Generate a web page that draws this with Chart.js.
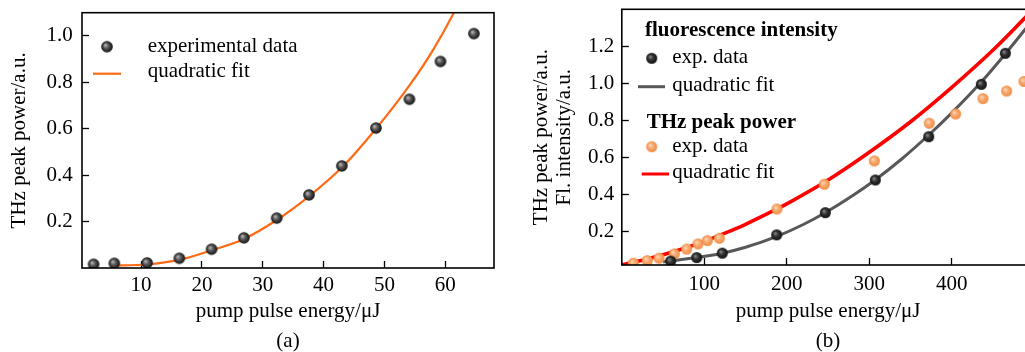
<!DOCTYPE html>
<html><head><meta charset="utf-8">
<script src="https://cdn.jsdelivr.net/npm/chart.js@4.4.1/dist/chart.umd.min.js"></script>
<style>
html,body{margin:0;padding:0;background:#fff;overflow:hidden;width:1025px;height:352px;}
#ca{position:absolute;left:0;top:0;}
#cb{position:absolute;left:515px;top:0;}
</style></head><body>
<canvas id="ca" width="510" height="352"></canvas>
<canvas id="cb" width="540" height="352"></canvas>
<script>
// ---- panel (a) data ----
const expAx = [2.2, 5.6, 11.0, 16.3, 21.6, 26.9, 32.3, 37.6, 43.0, 48.6, 54.1, 59.2, 64.7];
const expAy = [0.016, 0.02, 0.022, 0.042, 0.081, 0.13, 0.215, 0.315, 0.44, 0.603, 0.727, 0.89, 1.01];
const fitAx = [5, 10.9, 16.4, 21.8, 26.8, 32.3, 37.7, 43.2, 48.7, 54.2, 58, 61.4, 62.5];
const fitAy = [0.01, 0.015, 0.036, 0.078, 0.124, 0.207, 0.311, 0.438, 0.603, 0.79, 0.94, 1.1, 1.16];
const ticksAx = [10, 20, 30, 40, 50, 60];
const ticksAy = [0.2, 0.4, 0.6, 0.8, 1.0];

// ---- panel (b) data ----
const flExpX = [59.2, 90.8, 121.8, 187.8, 246.7, 307.3, 372, 435.8, 464.9];
const flExpY = [0.038, 0.057, 0.081, 0.18, 0.30, 0.477, 0.711, 0.994, 1.162];
const flFitX = [50, 60, 75, 90, 105, 122, 150, 188, 220, 247, 280, 307, 340, 372, 400, 436, 465, 489, 500];
const flFitY = [0.033, 0.04, 0.048, 0.057, 0.067, 0.081, 0.113, 0.172, 0.236, 0.301, 0.393, 0.477, 0.593, 0.72, 0.84, 1.008, 1.16, 1.292, 1.356];
const thzExpX = [14, 30.9, 45.1, 63.7, 78.7, 92.4, 103.7, 118.2, 188.1, 245.5, 306.1, 372.7, 404.7, 437.8, 466.5, 487.5];
const thzExpY = [0.027, 0.041, 0.054, 0.077, 0.103, 0.131, 0.149, 0.162, 0.32, 0.454, 0.58, 0.784, 0.834, 0.917, 0.958, 1.01];
const thzFitX = [0, 25, 50, 75, 100, 125, 150, 188, 200, 250, 300, 350, 400, 450, 489, 500];
const thzFitY = [0.018, 0.043, 0.072, 0.106, 0.145, 0.189, 0.237, 0.32, 0.348, 0.477, 0.627, 0.792, 0.978, 1.18, 1.355, 1.405];
const ticksBx = [100, 200, 300, 400];
const ticksBy = [0.2, 0.4, 0.6, 0.8, 1.0, 1.2];

const FONT = '"Liberation Serif", "Times New Roman", serif';
const pts = (xs, ys) => xs.map((x, i) => ({x: x, y: ys[i]}));

function sphere(r, hi, mid, lo) {
  const c = document.createElement('canvas');
  const s = Math.ceil(r * 2) + 2; c.width = s; c.height = s;
  const g = c.getContext('2d');
  const cx = s / 2, cy = s / 2;
  const grad = g.createRadialGradient(cx - r * 0.3, cy - r * 0.3, r * 0.05, cx, cy, r);
  grad.addColorStop(0, hi); grad.addColorStop(0.45, mid); grad.addColorStop(1, lo);
  g.fillStyle = grad; g.beginPath(); g.arc(cx, cy, r, 0, Math.PI * 2); g.fill();
  return c;
}
const ballA = sphere(5.8, '#b8b8b8', '#555', '#111');
const ballBk = sphere(5.5, '#8a8a8a', '#333', '#111');
const ballOr = sphere(5.5, '#ffd9b8', '#f8aa70', '#ef8c45');

const frame = {
  id: 'frame',
  afterDatasetsDraw(chart) {
    const a = chart.chartArea, c = chart.ctx;
    c.save(); c.strokeStyle = '#000'; c.lineWidth = 1.6;
    c.strokeRect(a.left, a.top, a.right - a.left, a.bottom - a.top);
    c.restore();
  }
};

function legendPlugin(items) {
  return {
    id: 'lg',
    afterDraw(chart) {
      const c = chart.ctx; c.save();
      c.textBaseline = 'alphabetic'; c.textAlign = 'left'; c.fillStyle = '#000';
      items.forEach(it => {
        if (it.type === 'text') {
          c.font = (it.bold ? 'bold ' : '') + '21px ' + FONT;
          c.fillText(it.text, it.x, it.y);
        } else if (it.type === 'ball') {
          c.drawImage(it.img, it.x - it.img.width / 2, it.y - it.img.height / 2);
        } else if (it.type === 'line') {
          c.strokeStyle = it.color; c.lineWidth = it.w;
          c.beginPath(); c.moveTo(it.x1, it.y); c.lineTo(it.x2, it.y); c.stroke();
        }
      });
      c.restore();
    }
  };
}

function axisCommon(tickVals, fmt, pad, title, titleOpts) {
  return {
    type: 'linear',
    afterBuildTicks: s => { s.ticks = tickVals.map(v => ({value: v})); },
    grid: {drawOnChartArea: false, drawTicks: true, tickLength: -7, color: '#000', tickColor: '#000', tickWidth: 1.3},
    border: {display: false},
    ticks: {color: '#000', font: {family: FONT, size: 21}, padding: pad, callback: fmt, maxRotation: 0, autoSkip: false},
    title: Object.assign({display: true, text: title, color: '#000'}, titleOpts),
  };
}
const fixH = h => s => { s.height = h; s.paddingLeft = 0; s.paddingRight = 0; s.paddingTop = 0; s.paddingBottom = 0; };
const fixW = w => s => { s.width = w; s.paddingLeft = 0; s.paddingRight = 0; s.paddingTop = 0; s.paddingBottom = 0; };

// ---- chart (a) ----
new Chart(document.getElementById('ca'), {
  type: 'scatter',
  data: {datasets: [
    {label: 'experimental data', data: pts(expAx, expAy), pointStyle: ballA, pointRadius: 6, clip: 0, showLine: false},
    {label: 'quadratic fit', data: pts(fitAx, fitAy), showLine: true, pointRadius: 0, borderColor: '#ff6a14', borderWidth: 2.2, cubicInterpolationMode: 'monotone', clip: 0}
  ]},
  options: {
    responsive: false, animation: false, devicePixelRatio: 1,
    layout: {autoPadding: false, padding: {left: 0, top: 12.7, right: 16, bottom: 0}},
    plugins: {legend: {display: false}, tooltip: {enabled: false}},
    scales: {
      x: Object.assign(axisCommon(ticksAx, v => String(v), 11.6,
          ['pump pulse energy/\u03bcJ', '(a)'],
          {font: {family: FONT, size: 21, lineHeight: '30px'}, padding: {top: 0, bottom: -4.7}}),
        {min: 0.3, max: 68, position: 'bottom', afterFit: fixH(84)}),
      y: Object.assign(axisCommon(ticksAy, v => v.toFixed(1), 16.3,
          'THz peak power/a.u.',
          {font: {family: FONT, size: 21, lineHeight: '25px'}, padding: {top: 7.4, bottom: 0}}),
        {min: 0, max: 1.1, position: 'left', afterFit: fixW(82)})
    }
  },
  plugins: [frame, legendPlugin([
    {type: 'ball', img: ballA, x: 107, y: 46.7},
    {type: 'text', text: 'experimental data', x: 147.7, y: 51.7},
    {type: 'line', color: '#ff6a14', w: 2.2, x1: 93, x2: 121, y: 73.7},
    {type: 'text', text: 'quadratic fit', x: 147.7, y: 77.3}
  ])]
});

// ---- chart (b) ----
new Chart(document.getElementById('cb'), {
  type: 'scatter',
  data: {datasets: [
    {label: 'fluorescence exp. data', data: pts(flExpX, flExpY), pointStyle: ballBk, pointRadius: 6, clip: 0, showLine: false},
    {label: 'THz exp. data', data: pts(thzExpX, thzExpY), pointStyle: ballOr, pointRadius: 6, clip: 0, showLine: false},
    {label: 'fluorescence quadratic fit', data: pts(flFitX, flFitY), showLine: true, pointRadius: 0, borderColor: '#585858', borderWidth: 3, cubicInterpolationMode: 'monotone', clip: 0},
    {label: 'THz quadratic fit', data: pts(thzFitX, thzFitY), showLine: true, pointRadius: 0, borderColor: '#ff0000', borderWidth: 3.6, cubicInterpolationMode: 'monotone', clip: 0}
  ]},
  options: {
    responsive: false, animation: false, devicePixelRatio: 1,
    layout: {autoPadding: false, padding: {left: 0, top: 9.3, right: 20.7, bottom: 0}},
    plugins: {legend: {display: false}, tooltip: {enabled: false}},
    scales: {
      x: Object.assign(axisCommon(ticksBx, v => String(v), 14.2,
          ['pump pulse energy/\u03bcJ', '(b)'],
          {font: {family: FONT, size: 21, lineHeight: '30px'}, padding: {top: 0, bottom: -4.7}}),
        {min: 0, max: 500, position: 'bottom', afterFit: fixH(87)}),
      y: Object.assign(axisCommon(ticksBy, v => v.toFixed(1), 14.5,
          ['THz peak power/a.u.', 'Fl. intensity/a.u.'],
          {font: {family: FONT, size: 21, lineHeight: '22.6px'}, padding: {top: 15.4, bottom: 0}}),
        {min: 0.017, max: 1.4, position: 'left', afterFit: fixW(106.8)})
    }
  },
  plugins: [frame, legendPlugin([
    {type: 'text', text: 'fluorescence intensity', bold: true, x: 130, y: 36},
    {type: 'ball', img: ballBk, x: 136.7, y: 58.3},
    {type: 'text', text: 'exp. data', x: 157.3, y: 63.3},
    {type: 'line', color: '#585858', w: 3, x1: 123, x2: 150, y: 86.7},
    {type: 'text', text: 'quadratic fit', x: 157.3, y: 90.7},
    {type: 'text', text: 'THz peak power', bold: true, x: 131.7, y: 128.3},
    {type: 'ball', img: ballOr, x: 136.7, y: 146.7},
    {type: 'text', text: 'exp. data', x: 157.3, y: 151.7},
    {type: 'line', color: '#ff0000', w: 3, x1: 126.7, x2: 154, y: 174},
    {type: 'text', text: 'quadratic fit', x: 157.3, y: 178.3}
  ])]
});
</script>
</body></html>
